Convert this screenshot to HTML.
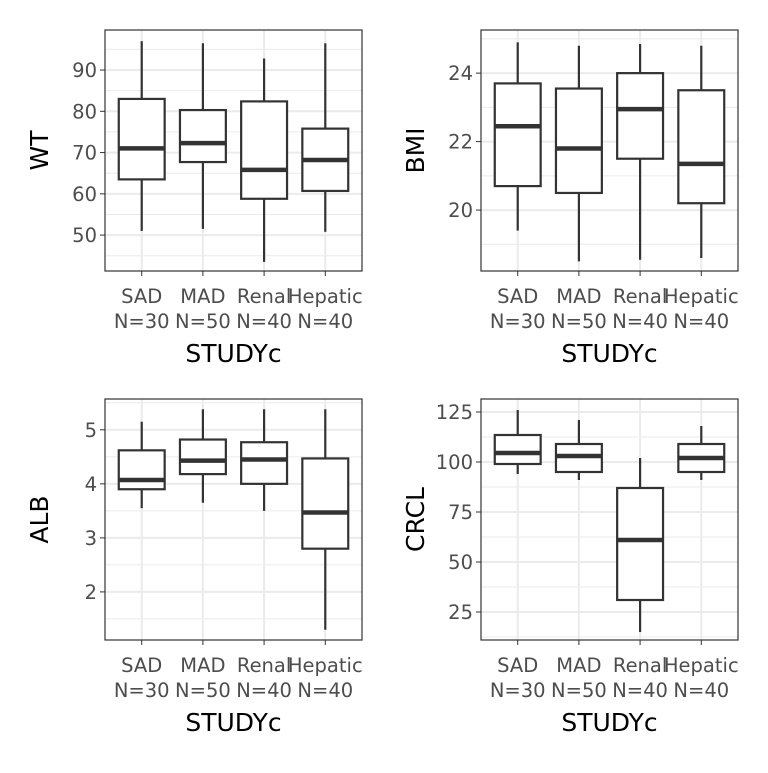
<!DOCTYPE html>
<html><head><meta charset="utf-8"><style>
body{margin:0;background:#fff}
svg text{font-family:"DejaVu Sans","Liberation Sans",sans-serif}
</style></head><body>
<svg id="chart" width="768" height="768"></svg>
<script>
const categories=["SAD","MAD","Renal","Hepatic"];
const counts=["N=30","N=50","N=40","N=40"];
const panelNames=["WT","BMI","ALB","CRCL"];
// [whiskerLow, q1, median, q3, whiskerHigh]
const wtValues=[[51,63.5,71,83,97],[51.5,67.7,72.3,80.3,96.5],[43.5,58.8,65.8,82.4,92.8],[50.8,60.7,68.2,75.8,96.5]];
const bmiValues=[[19.4,20.7,22.45,23.7,24.9],[18.5,20.5,21.8,23.55,24.8],[18.55,21.5,22.95,24.0,24.85],[18.6,20.2,21.35,23.5,24.8]];
const albValues=[[3.55,3.9,4.07,4.62,5.15],[3.65,4.18,4.43,4.82,5.38],[3.5,4.0,4.45,4.77,5.38],[1.3,2.8,3.47,4.47,5.38]];
const crclValues=[[94,99,104.5,113.5,126],[91,95,103,109,121],[15,31,61,87,102],[91,95,102,109,118]];
const wtTicks=[50,60,70,80,90];
const bmiTicks=[20,22,24];
const albTicks=[2,3,4,5];
const crclTicks=[25,50,75,100,125];
const wtMinor=[45,55,65,75,85,95];
const bmiMinor=[19,21,23,25];
const albMinor=[1.5,2.5,3.5,4.5,5.5];
const crclMinor=[12.5,37.5,62.5,87.5,112.5];
const domains=[[41.3,99.7],[18.22,25.26],[1.11,5.57],[11,131.5]];

const NS="http://www.w3.org/2000/svg";
const svg=document.getElementById('chart');
function mk(t,a,p){const e=document.createElementNS(NS,t);for(const k in a)e.setAttribute(k,a[k]);(p||svg).appendChild(e);return e;}
const panels=[
 {x:105,y:30,vals:wtValues,ticks:wtTicks,minor:wtMinor},
 {x:481,y:30,vals:bmiValues,ticks:bmiTicks,minor:bmiMinor},
 {x:105,y:399,vals:albValues,ticks:albTicks,minor:albMinor},
 {x:481,y:399,vals:crclValues,ticks:crclTicks,minor:crclMinor}];
const W=257,H=241;
panels.forEach((p,i)=>{
 const g=mk('g',{});
 
 
 const [d0,d1]=domains[i];
 const ys=v=>p.y+H-(v-d0)/(d1-d0)*H;
 const step=W/4.2;
 const xs=k=>p.x+(k+0.6)*step;
 p.minor.forEach(v=>{if(v>d0&&v<d1){const l=mk('line',{x1:p.x,x2:p.x+W,y1:ys(v),y2:ys(v),stroke:'#ebebeb','stroke-width':1},g);}});
 p.ticks.forEach(v=>{const l=mk('line',{x1:p.x,x2:p.x+W,y1:ys(v),y2:ys(v),stroke:'#ebebeb','stroke-width':2},g);});
 categories.forEach((cat,k)=>{const l=mk('line',{x1:xs(k),x2:xs(k),y1:p.y,y2:p.y+H,stroke:'#ebebeb','stroke-width':2},g);});
 p.ticks.forEach(v=>{
  const t=mk('line',{x1:p.x-5,x2:p.x,y1:ys(v),y2:ys(v),stroke:'#333','stroke-width':1},g);
  
  const tx=mk('text',{x:p.x-8,y:ys(v)+7,'text-anchor':'end','font-size':19.5,fill:'#4d4d4d'},g);
  tx.textContent=v;
 });
 const bw=step*0.75;
 p.vals.forEach((b,k)=>{
  const cx=xs(k);
  const bg=mk('g',{},g);
  
  
  mk('line',{x1:cx,x2:cx,y1:ys(b[0]),y2:ys(b[1]),stroke:'#333','stroke-width':2.2},bg);
  mk('line',{x1:cx,x2:cx,y1:ys(b[3]),y2:ys(b[4]),stroke:'#333','stroke-width':2.2},bg);
  mk('rect',{x:cx-bw/2,y:ys(b[3]),width:bw,height:ys(b[1])-ys(b[3]),fill:'#fff',stroke:'#333','stroke-width':2.2},bg);
  mk('line',{x1:cx-bw/2,x2:cx+bw/2,y1:ys(b[2]),y2:ys(b[2]),stroke:'#333','stroke-width':4.5},bg);
  const t=mk('line',{x1:cx,x2:cx,y1:p.y+H,y2:p.y+H+5,stroke:'#333','stroke-width':1},g);
  
  const tx=mk('text',{x:cx,y:p.y+H+32,'text-anchor':'middle','font-size':19.5,fill:'#4d4d4d'},g);
  tx.textContent=categories[k];
  const tn=mk('text',{x:cx,y:p.y+H+57,'text-anchor':'middle','font-size':19.5,fill:'#4d4d4d'},g);
  tn.textContent=counts[k];
 });
 const fr=mk('rect',{x:p.x,y:p.y,width:W,height:H,fill:'none',stroke:'#333','stroke-width':1.2},g);
 
 const xt=mk('text',{x:p.x+W/2,y:p.y+H+91,'text-anchor':'middle','font-size':25,fill:'#000'},g);
 xt.textContent='STUDYc';
 const yt=mk('text',{x:0,y:0,'text-anchor':'middle','font-size':25,fill:'#000',transform:`translate(${p.x-57},${p.y+H/2}) rotate(-90)`},g);
 yt.textContent=panelNames[i];
});
</script>
</body></html>
